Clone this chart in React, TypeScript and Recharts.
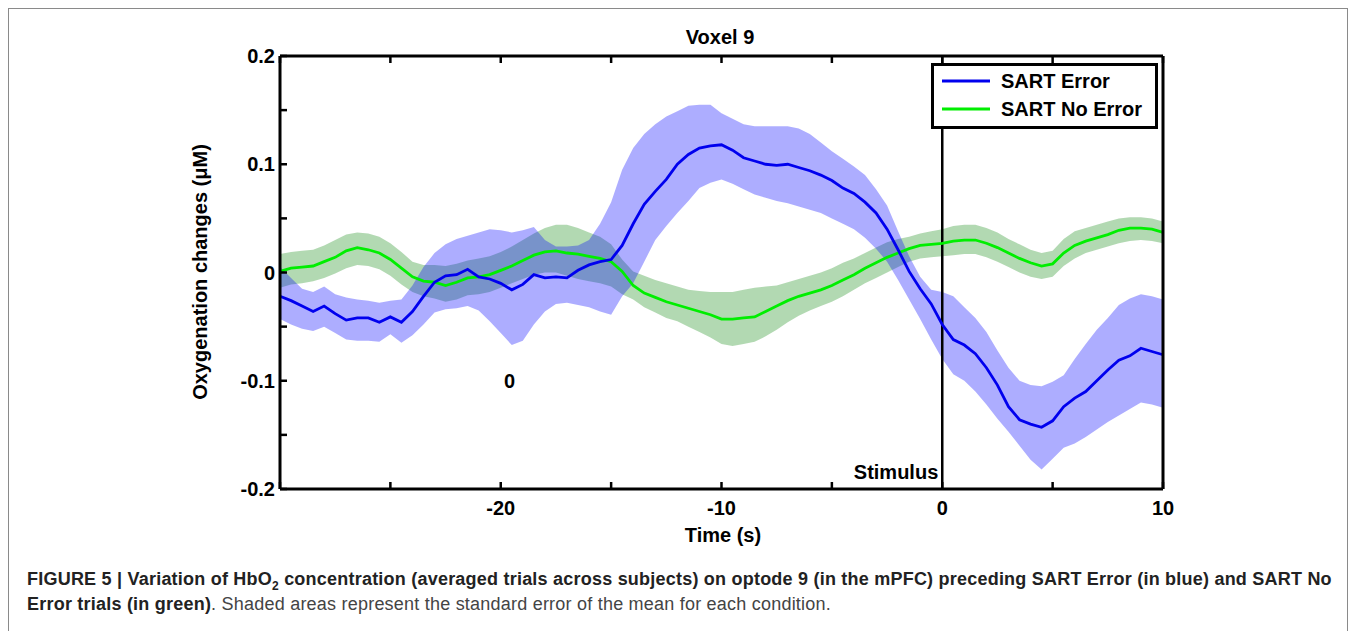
import { Area, ComposedChart, Line, ReferenceDot, ReferenceLine, XAxis, YAxis } from "recharts";

// time grid (s), 0.5 s steps
const times = [
  -30, -29.5, -29, -28.5, -28, -27.5, -27, -26.5, -26, -25.5, -25, -24.5, -24, -23.5, -23, -22.5, -22,
  -21.5, -21, -20.5, -20, -19.5, -19, -18.5, -18, -17.5, -17, -16.5, -16, -15.5, -15, -14.5, -14,
  -13.5, -13, -12.5, -12, -11.5, -11, -10.5, -10, -9.5, -9, -8.5, -8, -7.5, -7, -6.5, -6, -5.5, -5,
  -4.5, -4, -3.5, -3, -2.5, -2, -1.5, -1, -0.5, 0, 0.5, 1, 1.5, 2, 2.5, 3, 3.5, 4, 4.5, 5, 5.5, 6,
  6.5, 7, 7.5, 8, 8.5, 9, 9.5, 10,
];

// SART Error (blue): mean and SEM band edges
const errorMean = [
  -0.022, -0.026, -0.031, -0.036, -0.031, -0.038, -0.044, -0.042, -0.042, -0.046, -0.041, -0.046, -0.036,
  -0.022, -0.009, -0.003, -0.002, 0.003, -0.004, -0.006, -0.01, -0.016, -0.011, -0.002, -0.005, -0.004,
  -0.005, 0.002, 0.007, 0.01, 0.012, 0.025, 0.045, 0.063, 0.075, 0.086, 0.1, 0.109, 0.115, 0.117, 0.118,
  0.113, 0.106, 0.103, 0.1, 0.099, 0.1, 0.097, 0.094, 0.09, 0.085, 0.078, 0.073, 0.065, 0.055, 0.04,
  0.021, 0.001, -0.015, -0.029, -0.048, -0.062, -0.067, -0.075, -0.088, -0.104, -0.124, -0.136, -0.14,
  -0.143, -0.137, -0.124, -0.116, -0.11, -0.1, -0.09, -0.081, -0.077, -0.07, -0.073, -0.076,
];
const errorHigh = [
  0.005, -0.005, -0.015, -0.018, -0.013, -0.02, -0.023, -0.025, -0.026, -0.028, -0.026, -0.025, -0.012,
  0.005, 0.018, 0.026, 0.031, 0.034, 0.037, 0.04, 0.039, 0.037, 0.039, 0.042, 0.03, 0.024, 0.024, 0.025,
  0.03, 0.045, 0.065, 0.095, 0.115, 0.128, 0.137, 0.144, 0.149, 0.154, 0.155, 0.155, 0.147, 0.142, 0.137,
  0.135, 0.135, 0.135, 0.135, 0.133, 0.128, 0.12, 0.112, 0.105, 0.098, 0.09, 0.077, 0.062, 0.038, 0.015,
  -0.004, -0.016, -0.018, -0.022, -0.032, -0.042, -0.055, -0.072, -0.088, -0.1, -0.104, -0.105, -0.101,
  -0.095, -0.08, -0.066, -0.053, -0.042, -0.03, -0.024, -0.02, -0.022, -0.025,
];
const errorLow = [
  -0.043, -0.048, -0.052, -0.054, -0.05, -0.056, -0.062, -0.063, -0.063, -0.064, -0.057, -0.065, -0.058,
  -0.048, -0.037, -0.034, -0.033, -0.031, -0.035, -0.045, -0.056, -0.067, -0.063, -0.048, -0.036, -0.029,
  -0.028, -0.03, -0.032, -0.036, -0.039, -0.022, -0.01, 0.01, 0.03, 0.043, 0.055, 0.066, 0.078, 0.083,
  0.086, 0.082, 0.077, 0.072, 0.069, 0.066, 0.064, 0.061, 0.058, 0.055, 0.05, 0.045, 0.04, 0.032, 0.022,
  0.01, -0.007, -0.025, -0.043, -0.062, -0.08, -0.094, -0.1, -0.11, -0.122, -0.135, -0.147, -0.16, -0.173,
  -0.182, -0.172, -0.162, -0.158, -0.152, -0.145, -0.138, -0.132, -0.126, -0.12, -0.122, -0.125,
];

// SART No Error (green): mean and SEM band edges
const noErrorMean = [
  0.001, 0.004, 0.005, 0.006, 0.01, 0.014, 0.02, 0.023, 0.021, 0.018, 0.012, 0.004, -0.004, -0.008,
  -0.009, -0.012, -0.009, -0.005, -0.004, -0.002, 0.002, 0.006, 0.011, 0.016, 0.019, 0.02, 0.018, 0.017,
  0.015, 0.013, 0.01, 0.001, -0.012, -0.019, -0.023, -0.027, -0.03, -0.033, -0.036, -0.039, -0.043,
  -0.043, -0.042, -0.041, -0.036, -0.031, -0.026, -0.022, -0.019, -0.016, -0.012, -0.007, -0.002, 0.004,
  0.009, 0.014, 0.018, 0.022, 0.025, 0.026, 0.027, 0.029, 0.03, 0.03, 0.027, 0.023, 0.018, 0.013, 0.009,
  0.006, 0.008, 0.018, 0.025, 0.029, 0.032, 0.035, 0.039, 0.041, 0.041, 0.04, 0.037,
];
const noErrorHigh = [
  0.017, 0.019, 0.02, 0.021, 0.025, 0.03, 0.035, 0.037, 0.036, 0.033, 0.027, 0.019, 0.01, 0.007, 0.007,
  0.006, 0.008, 0.011, 0.013, 0.015, 0.019, 0.024, 0.03, 0.036, 0.041, 0.044, 0.044, 0.041, 0.037, 0.033,
  0.026, 0.012, 0.001, -0.003, -0.007, -0.01, -0.013, -0.016, -0.017, -0.018, -0.018, -0.018, -0.016,
  -0.014, -0.013, -0.012, -0.009, -0.006, -0.003, 0.0, 0.004, 0.009, 0.013, 0.018, 0.023, 0.028, 0.031,
  0.033, 0.036, 0.038, 0.04, 0.043, 0.044, 0.044, 0.041, 0.037, 0.031, 0.026, 0.021, 0.018, 0.02, 0.031,
  0.038, 0.041, 0.044, 0.047, 0.05, 0.051, 0.051, 0.05, 0.047,
];
const noErrorLow = [
  -0.014, -0.011, -0.01, -0.008, -0.005, -0.001, 0.004, 0.007, 0.006, 0.003, -0.003, -0.011, -0.018,
  -0.022, -0.024, -0.027, -0.025, -0.021, -0.02, -0.018, -0.014, -0.01, -0.006, -0.002, 0.0, 0.0, -0.003,
  -0.006, -0.008, -0.01, -0.013, -0.02, -0.025, -0.032, -0.037, -0.042, -0.045, -0.05, -0.055, -0.06,
  -0.066, -0.068, -0.066, -0.064, -0.059, -0.053, -0.046, -0.04, -0.035, -0.031, -0.027, -0.022, -0.016,
  -0.01, -0.005, 0.0, 0.005, 0.01, 0.013, 0.014, 0.015, 0.016, 0.017, 0.017, 0.014, 0.01, 0.005, 0.0,
  -0.004, -0.006, -0.004, 0.006, 0.013, 0.018, 0.021, 0.024, 0.027, 0.029, 0.03, 0.029, 0.027,
];

const xTicks = [-30, -25, -20, -15, -10, -5, 0, 5, 10];
const xTickLabels = [-20, -10, 0, 10];
const yTicks = [-0.2, -0.15, -0.1, -0.05, 0, 0.05, 0.1, 0.15, 0.2];
const yTickLabels = ["-0.2", "-0.1", "0", "0.1", "0.2"];

const FONT = '"Liberation Sans", Arial, Helvetica, sans-serif';
const BLUE = "#0000ee";
const GREEN = "#00ee00";
const TICK = 7;

const rows = times.map((t, i) => ({
  t,
  errorMean: errorMean[i],
  errorBand: [errorLow[i], errorHigh[i]],
  noErrorMean: noErrorMean[i],
  noErrorBand: [noErrorLow[i], noErrorHigh[i]],
}));

// round away float noise before comparing with the label lists
const fmt = (v: number) => String(Math.round(Number(v) * 1000) / 1000);

function BottomTick({ x, y }: any) {
  return <line x1={x} x2={x} y1={y} y2={y - TICK} stroke="#000" strokeWidth={2.5} />;
}

function TopTick({ x, y }: any) {
  return <line x1={x} x2={x} y1={y} y2={y + TICK} stroke="#000" strokeWidth={2.5} />;
}

function LeftTick({ x, y, payload }: any) {
  const label = fmt(payload.value);
  return (
    <g>
      <line x1={x} x2={x + TICK} y1={y} y2={y} stroke="#000" strokeWidth={2.5} />
      {yTickLabels.includes(label) ? (
        <text x={x - 5} y={y} dy="0.36em" textAnchor="end" fontFamily={FONT} fontWeight="bold" fontSize={20} fill="#000">
          {label}
        </text>
      ) : null}
    </g>
  );
}

function RightTick({ x, y }: any) {
  return <line x1={x} x2={x - TICK} y1={y} y2={y} stroke="#000" strokeWidth={2.5} />;
}

// x tick label placed under the bottom axis, anchored on a zero-size dot at (value, -0.2)
function XTickLabel({ viewBox, tickText }: any) {
  return (
    <text
      x={viewBox.x + viewBox.width / 2}
      y={viewBox.y + viewBox.height / 2 + 26}
      textAnchor="middle"
      fontFamily={FONT}
      fontWeight="bold"
      fontSize={20}
      fill="#000"
    >
      {tickText}
    </text>
  );
}

function StimulusLabel({ viewBox }: any) {
  return (
    <text
      x={viewBox.x - 4}
      y={viewBox.y + viewBox.height - 10}
      textAnchor="end"
      fontFamily={FONT}
      fontWeight="bold"
      fontSize={20}
      fill="#000"
    >
      Stimulus
    </text>
  );
}

function ZeroLabel({ viewBox }: any) {
  return (
    <text
      x={viewBox.x + viewBox.width / 2}
      y={viewBox.y + viewBox.height / 2}
      dy="0.36em"
      textAnchor="middle"
      fontFamily={FONT}
      fontWeight="bold"
      fontSize={20}
      fill="#000"
    >
      0
    </text>
  );
}

const axisLine = { stroke: "#000", strokeWidth: 3 };

export default function App() {
  return (
    <div
      style={{
        position: "relative",
        width: 1338,
        height: 622,
        border: "1px solid #8a8a8a",
        borderBottom: "none",
        background: "#fff",
        fontFamily: FONT,
      }}
    >
      <ComposedChart
        width={1330}
        height={540}
        data={rows}
        margin={{ top: 37, right: 166, bottom: 30, left: 211 }}
        style={{ position: "absolute", left: 0, top: 0 }}
      >
        <XAxis
          dataKey="t"
          type="number"
          domain={[-30, 10]}
          ticks={xTicks}
          interval={0}
          height={30}
          tickSize={0}
          tickMargin={0}
          axisLine={axisLine}
          tickLine={false}
          tick={(props: any) => <BottomTick {...props} />}
        />
        <XAxis
          xAxisId="top"
          orientation="top"
          dataKey="t"
          type="number"
          domain={[-30, 10]}
          ticks={xTicks}
          interval={0}
          height={10}
          tickSize={0}
          tickMargin={0}
          axisLine={axisLine}
          tickLine={false}
          tick={(props: any) => <TopTick {...props} />}
        />
        <YAxis
          type="number"
          domain={[-0.2, 0.2]}
          ticks={yTicks}
          interval={0}
          width={60}
          tickSize={0}
          tickMargin={0}
          axisLine={axisLine}
          tickLine={false}
          tick={(props: any) => <LeftTick {...props} />}
        />
        <YAxis
          yAxisId="right"
          orientation="right"
          type="number"
          domain={[-0.2, 0.2]}
          ticks={yTicks}
          interval={0}
          width={10}
          tickSize={0}
          tickMargin={0}
          axisLine={axisLine}
          tickLine={false}
          tick={(props: any) => <RightTick {...props} />}
        />
        <Area
          type="linear"
          dataKey="noErrorBand"
          stroke="none"
          fill="#008000"
          fillOpacity={0.3}
          isAnimationActive={false}
          activeDot={false}
        />
        <Area
          type="linear"
          dataKey="errorBand"
          stroke="none"
          fill="#0000ff"
          fillOpacity={0.32}
          isAnimationActive={false}
          activeDot={false}
        />
        <ReferenceLine x={0} stroke="#000" strokeWidth={2.5} label={<StimulusLabel />} />
        <Line
          type="linear"
          dataKey="noErrorMean"
          stroke={GREEN}
          strokeWidth={2.8}
          dot={false}
          isAnimationActive={false}
        />
        <Line
          type="linear"
          dataKey="errorMean"
          stroke={BLUE}
          strokeWidth={2.8}
          dot={false}
          isAnimationActive={false}
        />
        <ReferenceDot x={-19.6} y={-0.1} r={0} fill="none" stroke="none" label={<ZeroLabel />} />
        {xTickLabels.map((v) => (
          <ReferenceDot
            key={`xlabel-${v}`}
            x={v}
            y={-0.2}
            r={0}
            fill="none"
            stroke="none"
            ifOverflow="visible"
            label={<XTickLabel tickText={fmt(v)} />}
          />
        ))}
      </ComposedChart>

      <div
        style={{
          position: "absolute",
          left: 711,
          top: 28,
          transform: "translate(-50%, -50%)",
          fontWeight: "bold",
          fontSize: 20,
          whiteSpace: "nowrap",
        }}
      >
        Voxel 9
      </div>
      <div
        style={{
          position: "absolute",
          left: 714,
          top: 526,
          transform: "translate(-50%, -50%)",
          fontWeight: "bold",
          fontSize: 20,
          whiteSpace: "nowrap",
        }}
      >
        Time (s)
      </div>
      <div
        style={{
          position: "absolute",
          left: 191,
          top: 263,
          transform: "translate(-50%, -50%) rotate(-90deg)",
          fontWeight: "bold",
          fontSize: 20,
          whiteSpace: "nowrap",
        }}
      >
        Oxygenation changes (μM)
      </div>

      <svg width={228} height={66} style={{ position: "absolute", left: 922, top: 54 }}>
        <rect x={1.5} y={1.5} width={224} height={63} fill="#fff" stroke="#000" strokeWidth={3} />
        <line x1={11} x2={59} y1={18} y2={18} stroke={BLUE} strokeWidth={3} />
        <line x1={11} x2={59} y1={46} y2={46} stroke={GREEN} strokeWidth={3} />
        <text x={70} y={18} dy="0.36em" fontFamily={FONT} fontWeight="bold" fontSize={20} fill="#000">
          SART Error
        </text>
        <text x={70} y={46} dy="0.36em" fontFamily={FONT} fontWeight="bold" fontSize={20} fill="#000">
          SART No Error
        </text>
      </svg>

      <div
        style={{
          position: "absolute",
          left: 18,
          top: 558,
          fontSize: 18,
          letterSpacing: 0.22,
          lineHeight: "25px",
          color: "#222",
          whiteSpace: "nowrap",
        }}
      >
        <div style={{ fontWeight: "bold" }}>
          FIGURE 5 | Variation of HbO<sub style={{ fontSize: 12, lineHeight: 0 }}>2</sub> concentration (averaged
          trials across subjects) on optode 9 (in the mPFC) preceding SART Error (in blue) and SART No
        </div>
        <div>
          <span style={{ fontWeight: "bold" }}>Error trials (in green)</span>
          <span style={{ color: "#444" }}>. Shaded areas represent the standard error of the mean for each condition.</span>
        </div>
      </div>
    </div>
  );
}
